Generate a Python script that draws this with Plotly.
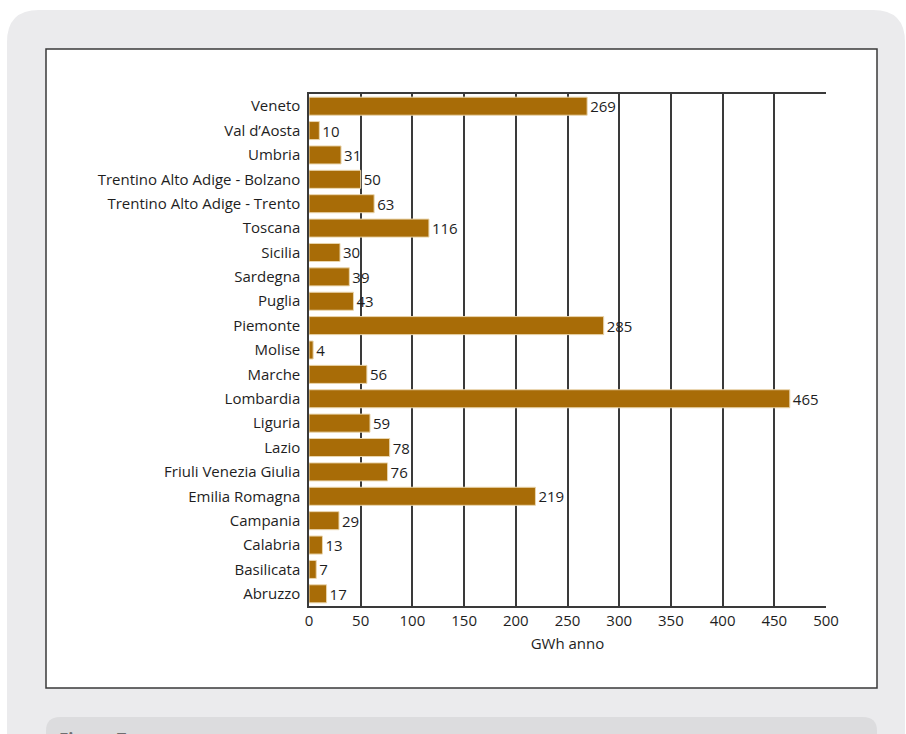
import plotly.graph_objects as go

W, H = 906, 734

regions = ["Abruzzo", "Basilicata", "Calabria", "Campania", "Emilia Romagna",
           "Friuli Venezia Giulia", "Lazio", "Liguria", "Lombardia", "Marche",
           "Molise", "Piemonte", "Puglia", "Sardegna", "Sicilia", "Toscana",
           "Trentino Alto Adige - Trento", "Trentino Alto Adige - Bolzano",
           "Umbria", "Val d\u2019Aosta", "Veneto"]
values = [17, 7, 13, 29, 219, 76, 78, 59, 465, 56, 4, 285, 43, 39, 30, 116,
          63, 50, 31, 10, 269]
x_ticks = [0, 50, 100, 150, 200, 250, 300, 350, 400, 450, 500]
x_title = "GWh anno"
caption = "Figura 7"

FONT = "Open Sans"
BAR = "#a86c07"


def px(x):
    return x / W


def py(y):
    return 1 - y / H


def rrect(x0, y0, x1, y1, r):
    X0, X1 = px(x0), px(x1)
    Y0, Y1 = py(y0), py(y1)
    rx, ry = r / W, r / H
    return (f"M{X0+rx},{Y0} L{X1-rx},{Y0} Q{X1},{Y0} {X1},{Y0-ry} "
            f"L{X1},{Y1+ry} Q{X1},{Y1} {X1-rx},{Y1} L{X0+rx},{Y1} "
            f"Q{X0},{Y1} {X0},{Y1+ry} L{X0},{Y0-ry} Q{X0},{Y0} {X0+rx},{Y0} Z")


fig = go.Figure(go.Bar(
    y=regions, x=values, orientation="h",
    marker=dict(color=BAR, line=dict(color="#ead6ae", width=1)),
    text=[str(v) for v in values], textposition="outside",
    textfont=dict(family=FONT, size=15, color="#1e1e1e"),
    constraintext="none", cliponaxis=False, width=0.74,
))

shapes = [
    dict(type="path", xref="paper", yref="paper", layer="below",
         path=rrect(7, 10, 905, 770, 32), fillcolor="#ebebed", line=dict(width=0)),
    dict(type="rect", xref="paper", yref="paper", layer="below",
         x0=px(46), x1=px(877), y0=py(688), y1=py(49),
         fillcolor="white", line=dict(color="#3a3a3a", width=1.5)),
    dict(type="path", xref="paper", yref="paper", layer="below",
         path=rrect(46, 717, 877, 780, 14), fillcolor="#dcdcde", line=dict(width=0)),
]

fig.update_layout(
    width=W, height=H, margin=dict(l=0, r=0, t=0, b=0, autoexpand=False),
    paper_bgcolor="white", plot_bgcolor="rgba(0,0,0,0)",
    shapes=shapes, showlegend=False,
    font=dict(family=FONT, color="#1e1e1e"),
    xaxis=dict(domain=[px(309), px(826)], range=[0, 500], tickvals=x_ticks,
               showgrid=True, gridcolor="#3a3a3a", gridwidth=1.5,
               showline=True, linecolor="#3a3a3a", linewidth=1.5, mirror=True,
               zeroline=False, ticks="", tickfont=dict(size=15, family=FONT),
               automargin=False,
               title=dict(text=x_title, font=dict(size=15, family=FONT), standoff=10)),
    yaxis=dict(domain=[py(606), py(94)], range=[-0.5, len(regions) - 0.5],
               showgrid=False, showline=True, linecolor="#3a3a3a", linewidth=1.5,
               ticks="", tickfont=dict(size=15, family=FONT), ticklabelstandoff=4,
               automargin=False),
    annotations=[dict(text=f"<b>{caption}</b>", xref="paper", yref="paper",
                      x=px(57), y=py(726), xanchor="left", yanchor="top",
                      showarrow=False,
                      font=dict(size=17, family=FONT, color="#6e6e70"))],
)

fig.write_html("out.html")
